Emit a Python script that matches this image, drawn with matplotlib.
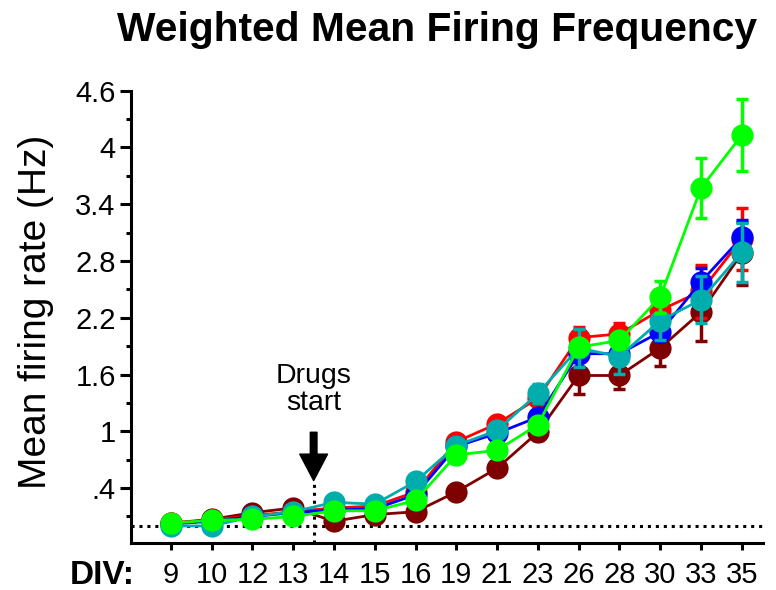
import numpy as np
import matplotlib.pyplot as plt

plt.rcParams.update({
    "font.family": ["Liberation Sans", "DejaVu Sans"],
    "font.size": 21,
    "axes.linewidth": 2.2,
})

div_days = ["9", "10", "12", "13", "14", "15", "16", "19", "21", "23", "26", "28", "30", "33", "35"]

# mean firing rate per group (Hz) and SEM
rate_maroon = [0.03, 0.07, 0.14, 0.19, 0.05, 0.12, 0.15, 0.36, 0.61, 0.99, 1.59, 1.59, 1.88, 2.26, 2.88]
sem_maroon = [0.02, 0.02, 0.03, 0.03, 0.03, 0.03, 0.04, 0.05, 0.06, 0.08, 0.20, 0.14, 0.19, 0.31, 0.33]
rate_red = [0.03, 0.06, 0.11, 0.15, 0.19, 0.21, 0.36, 0.89, 1.08, 1.35, 1.99, 2.03, 2.28, 2.48, 3.03]
sem_red = [0.02, 0.02, 0.03, 0.03, 0.03, 0.03, 0.04, 0.06, 0.07, 0.09, 0.11, 0.11, 0.12, 0.28, 0.33]
rate_blue = [0.02, 0.05, 0.10, 0.14, 0.17, 0.18, 0.33, 0.84, 0.98, 1.15, 1.82, 1.82, 2.05, 2.58, 3.05]
sem_blue = [0.02, 0.02, 0.03, 0.03, 0.03, 0.03, 0.04, 0.06, 0.07, 0.08, 0.14, 0.10, 0.10, 0.15, 0.18]
rate_teal = [0.00, 0.00, 0.10, 0.15, 0.25, 0.23, 0.47, 0.85, 1.01, 1.40, 1.88, 1.79, 2.17, 2.39, 2.89]
sem_teal = [0.02, 0.02, 0.03, 0.03, 0.03, 0.03, 0.04, 0.06, 0.07, 0.10, 0.20, 0.18, 0.21, 0.25, 0.31]
rate_green = [0.03, 0.06, 0.07, 0.10, 0.16, 0.16, 0.27, 0.75, 0.80, 1.07, 1.89, 1.96, 2.42, 3.57, 4.13]
sem_green = [0.02, 0.02, 0.03, 0.03, 0.03, 0.03, 0.04, 0.05, 0.05, 0.06, 0.06, 0.06, 0.17, 0.32, 0.38]

groups = [
    (rate_maroon, sem_maroon, "#7f0000"),
    (rate_red, sem_red, "#ff0000"),
    (rate_blue, sem_blue, "#0000ff"),
    (rate_teal, sem_teal, "#00adad"),
    (rate_green, sem_green, "#00ff00"),
]

drug_start = 3.5
y_bottom, y_top = -0.18, 4.6

fig = plt.figure(figsize=(7.76, 5.90), dpi=100)
ax = fig.add_axes([0.1688, 0.0797, 0.8144, 0.7666])

x = np.arange(len(div_days))
for i, (rate, sem, col) in enumerate(groups):
    line, caps, bars = ax.errorbar(x, rate, yerr=sem, color=col, marker="o",
                                   markersize=16, linewidth=2, elinewidth=2.5,
                                   capsize=4.3, capthick=2.5, barsabove=True,
                                   zorder=3 + i)
    line.set_markeredgewidth(0)

# baseline and drug onset marker
ax.axhline(0, color="black", linestyle=(0, (1, 1.6)), linewidth=2.2, zorder=1)
ax.plot([drug_start, drug_start], [y_bottom, 0.48], color="black",
        linestyle=(0, (1, 1.6)), linewidth=2.2, zorder=1, clip_on=False)
ax.annotate("", xy=(drug_start, 0.48), xytext=(drug_start, 0.99),
            arrowprops=dict(facecolor="black", edgecolor="black", width=4.8,
                            headwidth=20, headlength=19))
ax.text(drug_start, 1.44, "Drugs\nstart", ha="center", va="center",
        fontsize=20.5, linespacing=1.05)

ax.set_xlim(-0.98, 14.52)
ax.set_ylim(y_bottom, y_top)
ax.set_xticks(x)
ax.set_xticklabels(div_days)
ax.set_yticks([0.4, 1.0, 1.6, 2.2, 2.8, 3.4, 4.0, 4.6])
ax.set_yticklabels([".4", "1", "1.6", "2.2", "2.8", "3.4", "4", "4.6"])
ax.set_yticks(np.arange(0.1, 4.5, 0.6), minor=True)
ax.tick_params(axis="x", length=5, width=2.2, pad=8)
ax.tick_params(axis="y", which="major", length=8, width=2.2, pad=3)
ax.tick_params(axis="y", which="minor", length=3.5, width=2.2)
ax.spines["top"].set_visible(False)
ax.spines["right"].set_visible(False)

fig.text(36 / 776, 1 - 312 / 590, "Mean firing rate (Hz)", rotation=90,
         ha="center", va="center", fontsize=28)
fig.text(437 / 776, 1 - 41 / 590, "Weighted Mean Firing Frequency",
         ha="center", va="baseline", fontsize=29.3, fontweight="bold")
fig.text(102 / 776, 1 - 584 / 590, "DIV:", ha="center", va="baseline",
         fontsize=24, fontweight="bold")

fig.savefig("out.png", dpi=100)
